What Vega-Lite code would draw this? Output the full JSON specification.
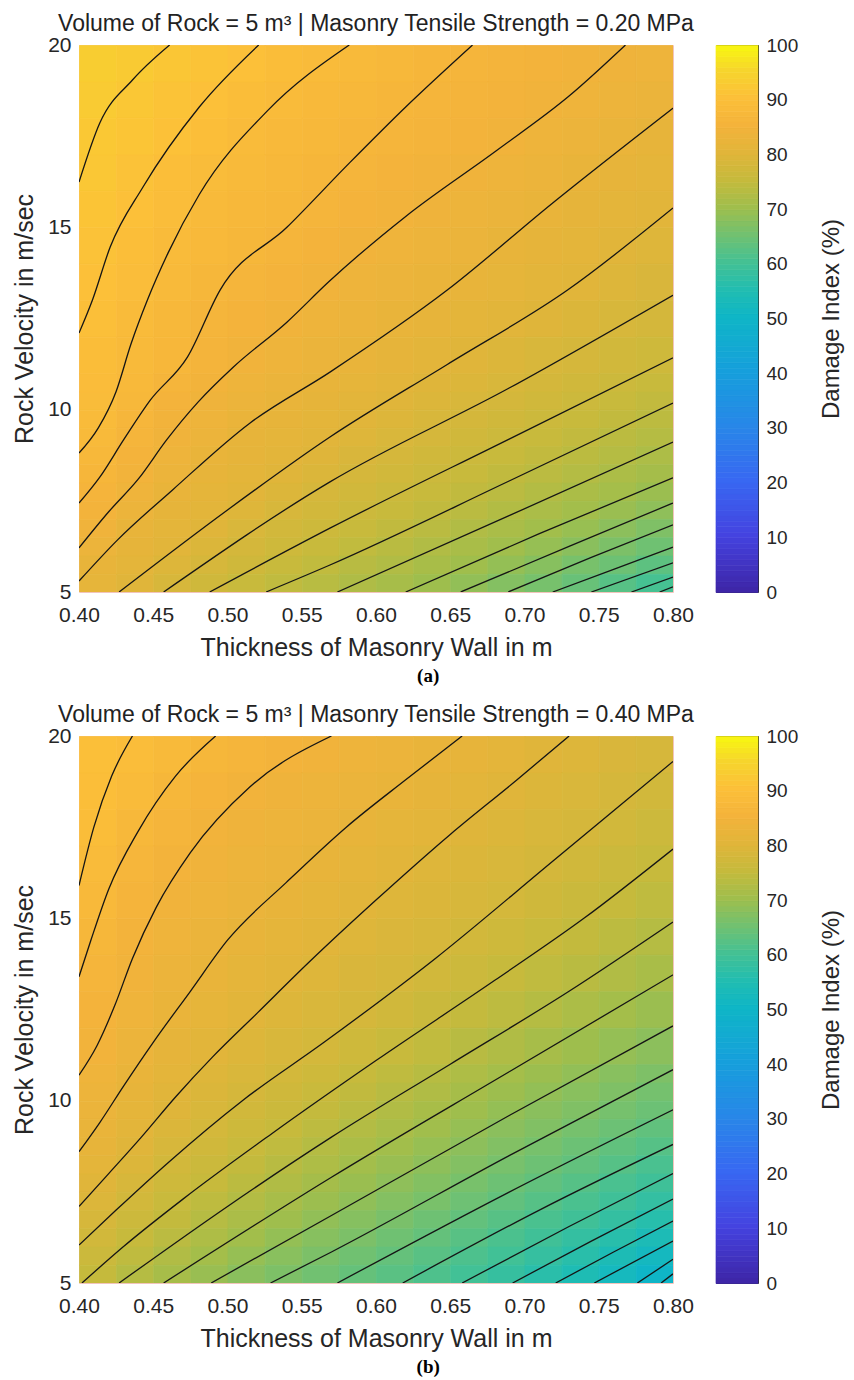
{
"$schema": "https://vega.github.io/schema/vega-lite/v6.json",
"padding": {"left": 12, "top": 12, "right": 2, "bottom": 2},
"background": "white",
"spacing": 17,
"config": {
  "font": "Liberation Sans",
  "view": {"stroke": null},
  "axis": {"labelFont": "Liberation Sans", "titleFont": "Liberation Sans", "labelColor": "#262626", "titleColor": "#262626", "grid": false, "domain": false, "ticks": false, "labelFontSize": 21, "titleFontSize": 25, "titleFontWeight": "normal", "labelFlush": false, "labelOverlap": false},
  "title": {"font": "Liberation Sans", "fontSize": 23, "fontWeight": "normal", "color": "#222222"}
},
"datasets": {
"cb": [{"c":0},{"c":1},{"c":2},{"c":3},{"c":4},{"c":5},{"c":6},{"c":7},{"c":8},{"c":9},{"c":10},{"c":11},{"c":12},{"c":13},{"c":14},{"c":15},{"c":16},{"c":17},{"c":18},{"c":19},{"c":20},{"c":21},{"c":22},{"c":23},{"c":24},{"c":25},{"c":26},{"c":27},{"c":28},{"c":29},{"c":30},{"c":31},{"c":32},{"c":33},{"c":34},{"c":35},{"c":36},{"c":37},{"c":38},{"c":39},{"c":40},{"c":41},{"c":42},{"c":43},{"c":44},{"c":45},{"c":46},{"c":47},{"c":48},{"c":49},{"c":50},{"c":51},{"c":52},{"c":53},{"c":54},{"c":55},{"c":56},{"c":57},{"c":58},{"c":59},{"c":60},{"c":61},{"c":62},{"c":63},{"c":64},{"c":65},{"c":66},{"c":67},{"c":68},{"c":69},{"c":70},{"c":71},{"c":72},{"c":73},{"c":74},{"c":75},{"c":76},{"c":77},{"c":78},{"c":79},{"c":80},{"c":81},{"c":82},{"c":83},{"c":84},{"c":85},{"c":86},{"c":87},{"c":88},{"c":89},{"c":90},{"c":91},{"c":92},{"c":93},{"c":94},{"c":95},{"c":96},{"c":97},{"c":98},{"c":99}],
"lA": [
{"k":1,"x":0.400,"v":16.24},{"k":1,"x":0.414,"v":17.86},{"k":1,"x":0.436,"v":19.04},{"k":1,"x":0.461,"v":20},
{"k":2,"x":0.400,"v":12.1},{"k":2,"x":0.409,"v":13.0},{"k":2,"x":0.421,"v":14.46},{"k":2,"x":0.443,"v":16.1},{"k":2,"x":0.481,"v":18.3},{"k":2,"x":0.521,"v":20},
{"k":3,"x":0.400,"v":8.81},{"k":3,"x":0.413,"v":9.5},{"k":3,"x":0.425,"v":10.5},{"k":3,"x":0.435,"v":11.8},{"k":3,"x":0.446,"v":13.0},{"k":3,"x":0.460,"v":14.3},{"k":3,"x":0.481,"v":15.9},{"k":3,"x":0.527,"v":18.2},{"k":3,"x":0.582,"v":20},
{"k":4,"x":0.400,"v":7.44},{"k":4,"x":0.414,"v":8.15},{"k":4,"x":0.430,"v":9.17},{"k":4,"x":0.448,"v":10.26},{"k":4,"x":0.473,"v":11.44},{"k":4,"x":0.495,"v":13.28},{"k":4,"x":0.540,"v":15.0},{"k":4,"x":0.582,"v":16.76},{"k":4,"x":0.620,"v":18.3},{"k":4,"x":0.665,"v":20},
{"k":5,"x":0.400,"v":6.21},{"k":5,"x":0.420,"v":7.2},{"k":5,"x":0.440,"v":8.1},{"k":5,"x":0.459,"v":9.17},{"k":5,"x":0.480,"v":10.2},{"k":5,"x":0.504,"v":11.17},{"k":5,"x":0.540,"v":12.4},{"k":5,"x":0.568,"v":13.5},{"k":5,"x":0.620,"v":15.3},{"k":5,"x":0.681,"v":17.1},{"k":5,"x":0.730,"v":18.6},{"k":5,"x":0.768,"v":20},
{"k":6,"x":0.400,"v":5.3},{"k":6,"x":0.426,"v":6.43},{"k":6,"x":0.463,"v":7.8},{"k":6,"x":0.515,"v":9.63},{"k":6,"x":0.569,"v":11.03},{"k":6,"x":0.648,"v":13.28},{"k":6,"x":0.719,"v":15.67},{"k":6,"x":0.800,"v":18.27},
{"k":7,"x":0.427,"v":5},{"k":7,"x":0.500,"v":7.25},{"k":7,"x":0.569,"v":9.25},{"k":7,"x":0.648,"v":11.24},{"k":7,"x":0.729,"v":13.28},{"k":7,"x":0.800,"v":15.53},
{"k":8,"x":0.457,"v":5},{"k":8,"x":0.569,"v":8.02},{"k":8,"x":0.690,"v":10.6},{"k":8,"x":0.800,"v":13.14},
{"k":9,"x":0.488,"v":5},{"k":9,"x":0.569,"v":6.75},{"k":9,"x":0.690,"v":9.2},{"k":9,"x":0.800,"v":11.42},
{"k":10,"x":0.526,"v":5},{"k":10,"x":0.569,"v":5.74},{"k":10,"x":0.690,"v":8.05},{"k":10,"x":0.800,"v":10.18},
{"k":11,"x":0.574,"v":5},{"k":11,"x":0.690,"v":7.1},{"k":11,"x":0.800,"v":9.11},
{"k":12,"x":0.620,"v":5},{"k":12,"x":0.710,"v":6.6},{"k":12,"x":0.800,"v":8.13},
{"k":13,"x":0.657,"v":5},{"k":13,"x":0.730,"v":6.25},{"k":13,"x":0.800,"v":7.44},
{"k":14,"x":0.689,"v":5},{"k":14,"x":0.745,"v":5.95},{"k":14,"x":0.800,"v":6.84},
{"k":15,"x":0.719,"v":5},{"k":15,"x":0.760,"v":5.62},{"k":15,"x":0.800,"v":6.23},
{"k":16,"x":0.745,"v":5},{"k":16,"x":0.800,"v":5.80},
{"k":17,"x":0.772,"v":5},{"k":17,"x":0.800,"v":5.41},
{"k":18,"x":0.791,"v":5},{"k":18,"x":0.800,"v":5.14}
],
"lB": [
{"k":1,"x":0.400,"v":15.9},{"k":1,"x":0.410,"v":17.5},{"k":1,"x":0.422,"v":18.9},{"k":1,"x":0.436,"v":20},
{"k":2,"x":0.400,"v":13.4},{"k":2,"x":0.408,"v":14.4},{"k":2,"x":0.420,"v":15.8},{"k":2,"x":0.440,"v":17.4},{"k":2,"x":0.465,"v":18.9},{"k":2,"x":0.492,"v":20},
{"k":3,"x":0.400,"v":10.7},{"k":3,"x":0.412,"v":11.5},{"k":3,"x":0.424,"v":12.6},{"k":3,"x":0.436,"v":13.9},{"k":3,"x":0.452,"v":15.3},{"k":3,"x":0.475,"v":16.8},{"k":3,"x":0.515,"v":18.6},{"k":3,"x":0.570,"v":20},
{"k":4,"x":0.400,"v":8.6},{"k":4,"x":0.414,"v":9.4},{"k":4,"x":0.430,"v":10.4},{"k":4,"x":0.450,"v":11.6},{"k":4,"x":0.475,"v":13.0},{"k":4,"x":0.500,"v":14.4},{"k":4,"x":0.540,"v":16.0},{"k":4,"x":0.580,"v":17.5},{"k":4,"x":0.620,"v":18.8},{"k":4,"x":0.658,"v":20},
{"k":5,"x":0.400,"v":7.1},{"k":5,"x":0.420,"v":8.0},{"k":5,"x":0.442,"v":9.0},{"k":5,"x":0.465,"v":10.1},{"k":5,"x":0.490,"v":11.2},{"k":5,"x":0.520,"v":12.4},{"k":5,"x":0.555,"v":13.8},{"k":5,"x":0.600,"v":15.5},{"k":5,"x":0.650,"v":17.3},{"k":5,"x":0.695,"v":18.8},{"k":5,"x":0.730,"v":20},
{"k":6,"x":0.400,"v":6.04},{"k":6,"x":0.425,"v":7.0},{"k":6,"x":0.460,"v":8.3},{"k":6,"x":0.510,"v":10.0},{"k":6,"x":0.565,"v":11.6},{"k":6,"x":0.640,"v":13.9},{"k":6,"x":0.720,"v":16.6},{"k":6,"x":0.800,"v":19.3},
{"k":7,"x":0.402,"v":5},{"k":7,"x":0.430,"v":6.0},{"k":7,"x":0.470,"v":7.3},{"k":7,"x":0.530,"v":9.1},{"k":7,"x":0.600,"v":11.1},{"k":7,"x":0.680,"v":13.3},{"k":7,"x":0.740,"v":15.0},{"k":7,"x":0.800,"v":16.9},
{"k":8,"x":0.427,"v":5},{"k":8,"x":0.500,"v":7.1},{"k":8,"x":0.570,"v":9.0},{"k":8,"x":0.650,"v":11.0},{"k":8,"x":0.730,"v":13.0},{"k":8,"x":0.800,"v":14.9},
{"k":9,"x":0.457,"v":5},{"k":9,"x":0.570,"v":7.9},{"k":9,"x":0.690,"v":10.8},{"k":9,"x":0.800,"v":13.45},
{"k":10,"x":0.489,"v":5},{"k":10,"x":0.570,"v":6.85},{"k":10,"x":0.690,"v":9.6},{"k":10,"x":0.800,"v":12.05},
{"k":11,"x":0.529,"v":5},{"k":11,"x":0.570,"v":5.85},{"k":11,"x":0.690,"v":8.5},{"k":11,"x":0.800,"v":10.85},
{"k":12,"x":0.574,"v":5},{"k":12,"x":0.690,"v":7.5},{"k":12,"x":0.800,"v":9.75},
{"k":13,"x":0.618,"v":5},{"k":13,"x":0.710,"v":7.0},{"k":13,"x":0.800,"v":8.8},
{"k":14,"x":0.658,"v":5},{"k":14,"x":0.730,"v":6.55},{"k":14,"x":0.800,"v":8.0},
{"k":15,"x":0.692,"v":5},{"k":15,"x":0.745,"v":6.15},{"k":15,"x":0.800,"v":7.3},
{"k":16,"x":0.721,"v":5},{"k":16,"x":0.760,"v":5.85},{"k":16,"x":0.800,"v":6.7},
{"k":17,"x":0.747,"v":5},{"k":17,"x":0.800,"v":6.15},
{"k":18,"x":0.776,"v":5},{"k":18,"x":0.800,"v":5.65},
{"k":19,"x":0.792,"v":5},{"k":19,"x":0.800,"v":5.25}
],
"gA": [
{"v":19,"x":0.4,"d":93.0},{"v":19,"x":0.425,"d":92.3},{"v":19,"x":0.45,"d":91.5},{"v":19,"x":0.475,"d":90.7},{"v":19,"x":0.5,"d":89.9},{"v":19,"x":0.525,"d":89.0},{"v":19,"x":0.55,"d":88.2},{"v":19,"x":0.575,"d":87.5},{"v":19,"x":0.6,"d":86.9},{"v":19,"x":0.625,"d":86.3},{"v":19,"x":0.65,"d":85.8},{"v":19,"x":0.675,"d":85.3},{"v":19,"x":0.7,"d":84.8},{"v":19,"x":0.725,"d":84.3},{"v":19,"x":0.75,"d":83.8},{"v":19,"x":0.775,"d":83.3},
{"v":18,"x":0.4,"d":92.5},{"v":18,"x":0.425,"d":91.6},{"v":18,"x":0.45,"d":90.8},{"v":18,"x":0.475,"d":89.9},{"v":18,"x":0.5,"d":88.9},{"v":18,"x":0.525,"d":88.0},{"v":18,"x":0.55,"d":87.4},{"v":18,"x":0.575,"d":86.8},{"v":18,"x":0.6,"d":86.3},{"v":18,"x":0.625,"d":85.8},{"v":18,"x":0.65,"d":85.3},{"v":18,"x":0.675,"d":84.8},{"v":18,"x":0.7,"d":84.3},{"v":18,"x":0.725,"d":83.7},{"v":18,"x":0.75,"d":83.1},{"v":18,"x":0.775,"d":82.5},
{"v":17,"x":0.4,"d":91.9},{"v":17,"x":0.425,"d":91.1},{"v":17,"x":0.45,"d":90.2},{"v":17,"x":0.475,"d":89.1},{"v":17,"x":0.5,"d":88.0},{"v":17,"x":0.525,"d":87.4},{"v":17,"x":0.55,"d":86.9},{"v":17,"x":0.575,"d":86.3},{"v":17,"x":0.6,"d":85.7},{"v":17,"x":0.625,"d":85.2},{"v":17,"x":0.65,"d":84.7},{"v":17,"x":0.675,"d":84.1},{"v":17,"x":0.7,"d":83.5},{"v":17,"x":0.725,"d":82.9},{"v":17,"x":0.75,"d":82.3},{"v":17,"x":0.775,"d":81.7},
{"v":16,"x":0.4,"d":91.6},{"v":16,"x":0.425,"d":90.5},{"v":16,"x":0.45,"d":89.4},{"v":16,"x":0.475,"d":88.3},{"v":16,"x":0.5,"d":87.5},{"v":16,"x":0.525,"d":86.9},{"v":16,"x":0.55,"d":86.3},{"v":16,"x":0.575,"d":85.7},{"v":16,"x":0.6,"d":85.1},{"v":16,"x":0.625,"d":84.6},{"v":16,"x":0.65,"d":84.0},{"v":16,"x":0.675,"d":83.4},{"v":16,"x":0.7,"d":82.8},{"v":16,"x":0.725,"d":82.2},{"v":16,"x":0.75,"d":81.6},{"v":16,"x":0.775,"d":81.0},
{"v":15,"x":0.4,"d":91.0},{"v":15,"x":0.425,"d":89.9},{"v":15,"x":0.45,"d":88.7},{"v":15,"x":0.475,"d":87.7},{"v":15,"x":0.5,"d":87.0},{"v":15,"x":0.525,"d":86.4},{"v":15,"x":0.55,"d":85.7},{"v":15,"x":0.575,"d":85.1},{"v":15,"x":0.6,"d":84.4},{"v":15,"x":0.625,"d":83.8},{"v":15,"x":0.65,"d":83.2},{"v":15,"x":0.675,"d":82.6},{"v":15,"x":0.7,"d":82.0},{"v":15,"x":0.725,"d":81.4},{"v":15,"x":0.75,"d":80.9},{"v":15,"x":0.775,"d":80.3},
{"v":14,"x":0.4,"d":90.5},{"v":14,"x":0.425,"d":89.2},{"v":14,"x":0.45,"d":88.0},{"v":14,"x":0.475,"d":87.2},{"v":14,"x":0.5,"d":86.5},{"v":14,"x":0.525,"d":85.7},{"v":14,"x":0.55,"d":85.0},{"v":14,"x":0.575,"d":84.3},{"v":14,"x":0.6,"d":83.6},{"v":14,"x":0.625,"d":83.1},{"v":14,"x":0.65,"d":82.5},{"v":14,"x":0.675,"d":81.9},{"v":14,"x":0.7,"d":81.3},{"v":14,"x":0.725,"d":80.7},{"v":14,"x":0.75,"d":80.1},{"v":14,"x":0.775,"d":79.4},
{"v":13,"x":0.4,"d":90.0},{"v":13,"x":0.425,"d":88.7},{"v":13,"x":0.45,"d":87.5},{"v":13,"x":0.475,"d":86.5},{"v":13,"x":0.5,"d":85.7},{"v":13,"x":0.525,"d":84.9},{"v":13,"x":0.55,"d":84.2},{"v":13,"x":0.575,"d":83.5},{"v":13,"x":0.6,"d":83.0},{"v":13,"x":0.625,"d":82.4},{"v":13,"x":0.65,"d":81.8},{"v":13,"x":0.675,"d":81.2},{"v":13,"x":0.7,"d":80.6},{"v":13,"x":0.725,"d":80.0},{"v":13,"x":0.75,"d":79.3},{"v":13,"x":0.775,"d":78.6},
{"v":12,"x":0.4,"d":89.5},{"v":12,"x":0.425,"d":88.2},{"v":12,"x":0.45,"d":87.0},{"v":12,"x":0.475,"d":85.9},{"v":12,"x":0.5,"d":85.1},{"v":12,"x":0.525,"d":84.2},{"v":12,"x":0.55,"d":83.5},{"v":12,"x":0.575,"d":82.8},{"v":12,"x":0.6,"d":82.2},{"v":12,"x":0.625,"d":81.6},{"v":12,"x":0.65,"d":80.9},{"v":12,"x":0.675,"d":80.3},{"v":12,"x":0.7,"d":79.6},{"v":12,"x":0.725,"d":78.9},{"v":12,"x":0.75,"d":78.2},{"v":12,"x":0.775,"d":77.6},
{"v":11,"x":0.4,"d":89.0},{"v":11,"x":0.425,"d":87.8},{"v":11,"x":0.45,"d":86.6},{"v":11,"x":0.475,"d":85.3},{"v":11,"x":0.5,"d":84.1},{"v":11,"x":0.525,"d":83.3},{"v":11,"x":0.55,"d":82.7},{"v":11,"x":0.575,"d":82.0},{"v":11,"x":0.6,"d":81.3},{"v":11,"x":0.625,"d":80.6},{"v":11,"x":0.65,"d":79.9},{"v":11,"x":0.675,"d":79.1},{"v":11,"x":0.7,"d":78.4},{"v":11,"x":0.725,"d":77.7},{"v":11,"x":0.75,"d":77.1},{"v":11,"x":0.775,"d":76.4}
],
"fA": [
{"v":10.5,"x":0.4,"d":88.6},{"v":10.5,"x":0.425,"d":87.3},{"v":10.5,"x":0.45,"d":85.7},{"v":10.5,"x":0.475,"d":84.4},{"v":10.5,"x":0.5,"d":83.4},{"v":10.5,"x":0.525,"d":82.6},{"v":10.5,"x":0.55,"d":81.9},{"v":10.5,"x":0.575,"d":81.2},{"v":10.5,"x":0.6,"d":80.4},{"v":10.5,"x":0.625,"d":79.7},{"v":10.5,"x":0.65,"d":79.0},{"v":10.5,"x":0.675,"d":78.3},{"v":10.5,"x":0.7,"d":77.6},{"v":10.5,"x":0.725,"d":76.8},{"v":10.5,"x":0.75,"d":76.1},{"v":10.5,"x":0.775,"d":75.3},
{"v":10,"x":0.4,"d":88.4},{"v":10,"x":0.425,"d":86.8},{"v":10,"x":0.45,"d":85.1},{"v":10,"x":0.475,"d":83.8},{"v":10,"x":0.5,"d":82.9},{"v":10,"x":0.525,"d":82.1},{"v":10,"x":0.55,"d":81.3},{"v":10,"x":0.575,"d":80.6},{"v":10,"x":0.6,"d":79.9},{"v":10,"x":0.625,"d":79.1},{"v":10,"x":0.65,"d":78.3},{"v":10,"x":0.675,"d":77.6},{"v":10,"x":0.7,"d":76.9},{"v":10,"x":0.725,"d":76.1},{"v":10,"x":0.75,"d":75.3},{"v":10,"x":0.775,"d":74.5},
{"v":9.5,"x":0.4,"d":88.1},{"v":9.5,"x":0.425,"d":86.2},{"v":9.5,"x":0.45,"d":84.5},{"v":9.5,"x":0.475,"d":83.3},{"v":9.5,"x":0.5,"d":82.3},{"v":9.5,"x":0.525,"d":81.5},{"v":9.5,"x":0.55,"d":80.8},{"v":9.5,"x":0.575,"d":80.0},{"v":9.5,"x":0.6,"d":79.2},{"v":9.5,"x":0.625,"d":78.4},{"v":9.5,"x":0.65,"d":77.6},{"v":9.5,"x":0.675,"d":76.9},{"v":9.5,"x":0.7,"d":76.1},{"v":9.5,"x":0.725,"d":75.3},{"v":9.5,"x":0.75,"d":74.5},{"v":9.5,"x":0.775,"d":73.7},
{"v":9,"x":0.4,"d":87.6},{"v":9,"x":0.425,"d":85.6},{"v":9,"x":0.45,"d":83.9},{"v":9,"x":0.475,"d":82.8},{"v":9,"x":0.5,"d":81.7},{"v":9,"x":0.525,"d":81.0},{"v":9,"x":0.55,"d":80.2},{"v":9,"x":0.575,"d":79.4},{"v":9,"x":0.6,"d":78.5},{"v":9,"x":0.625,"d":77.7},{"v":9,"x":0.65,"d":76.9},{"v":9,"x":0.675,"d":76.1},{"v":9,"x":0.7,"d":75.3},{"v":9,"x":0.725,"d":74.5},{"v":9,"x":0.75,"d":73.6},{"v":9,"x":0.775,"d":72.7},
{"v":8.5,"x":0.4,"d":86.9},{"v":8.5,"x":0.425,"d":85.0},{"v":8.5,"x":0.45,"d":83.4},{"v":8.5,"x":0.475,"d":82.1},{"v":8.5,"x":0.5,"d":81.3},{"v":8.5,"x":0.525,"d":80.5},{"v":8.5,"x":0.55,"d":79.6},{"v":8.5,"x":0.575,"d":78.6},{"v":8.5,"x":0.6,"d":77.7},{"v":8.5,"x":0.625,"d":76.9},{"v":8.5,"x":0.65,"d":76.2},{"v":8.5,"x":0.675,"d":75.3},{"v":8.5,"x":0.7,"d":74.5},{"v":8.5,"x":0.725,"d":73.6},{"v":8.5,"x":0.75,"d":72.7},{"v":8.5,"x":0.775,"d":71.7},
{"v":8,"x":0.4,"d":86.3},{"v":8,"x":0.425,"d":84.4},{"v":8,"x":0.45,"d":82.8},{"v":8,"x":0.475,"d":81.6},{"v":8,"x":0.5,"d":80.8},{"v":8,"x":0.525,"d":79.9},{"v":8,"x":0.55,"d":78.8},{"v":8,"x":0.575,"d":77.8},{"v":8,"x":0.6,"d":77.0},{"v":8,"x":0.625,"d":76.2},{"v":8,"x":0.65,"d":75.3},{"v":8,"x":0.675,"d":74.4},{"v":8,"x":0.7,"d":73.5},{"v":8,"x":0.725,"d":72.6},{"v":8,"x":0.75,"d":71.6},{"v":8,"x":0.775,"d":70.7},
{"v":7.5,"x":0.4,"d":85.5},{"v":7.5,"x":0.425,"d":83.6},{"v":7.5,"x":0.45,"d":82.0},{"v":7.5,"x":0.475,"d":81.1},{"v":7.5,"x":0.5,"d":80.2},{"v":7.5,"x":0.525,"d":79.0},{"v":7.5,"x":0.55,"d":77.9},{"v":7.5,"x":0.575,"d":77.0},{"v":7.5,"x":0.6,"d":76.2},{"v":7.5,"x":0.625,"d":75.3},{"v":7.5,"x":0.65,"d":74.4},{"v":7.5,"x":0.675,"d":73.5},{"v":7.5,"x":0.7,"d":72.5},{"v":7.5,"x":0.725,"d":71.5},{"v":7.5,"x":0.75,"d":70.6},{"v":7.5,"x":0.775,"d":69.5},
{"v":7,"x":0.4,"d":84.7},{"v":7,"x":0.425,"d":82.8},{"v":7,"x":0.45,"d":81.4},{"v":7,"x":0.475,"d":80.5},{"v":7,"x":0.5,"d":79.4},{"v":7,"x":0.525,"d":78.1},{"v":7,"x":0.55,"d":77.2},{"v":7,"x":0.575,"d":76.2},{"v":7,"x":0.6,"d":75.3},{"v":7,"x":0.625,"d":74.4},{"v":7,"x":0.65,"d":73.4},{"v":7,"x":0.675,"d":72.4},{"v":7,"x":0.7,"d":71.4},{"v":7,"x":0.725,"d":70.4},{"v":7,"x":0.75,"d":69.3},{"v":7,"x":0.775,"d":68.1},
{"v":6.5,"x":0.4,"d":83.9},{"v":6.5,"x":0.425,"d":81.9},{"v":6.5,"x":0.45,"d":80.9},{"v":6.5,"x":0.475,"d":79.8},{"v":6.5,"x":0.5,"d":78.5},{"v":6.5,"x":0.525,"d":77.3},{"v":6.5,"x":0.55,"d":76.3},{"v":6.5,"x":0.575,"d":75.3},{"v":6.5,"x":0.6,"d":74.4},{"v":6.5,"x":0.625,"d":73.4},{"v":6.5,"x":0.65,"d":72.3},{"v":6.5,"x":0.675,"d":71.3},{"v":6.5,"x":0.7,"d":70.3},{"v":6.5,"x":0.725,"d":69.1},{"v":6.5,"x":0.75,"d":67.8},{"v":6.5,"x":0.775,"d":66.4},
{"v":6,"x":0.4,"d":82.9},{"v":6,"x":0.425,"d":81.3},{"v":6,"x":0.45,"d":80.2},{"v":6,"x":0.475,"d":78.9},{"v":6,"x":0.5,"d":77.6},{"v":6,"x":0.525,"d":76.4},{"v":6,"x":0.55,"d":75.3},{"v":6,"x":0.575,"d":74.3},{"v":6,"x":0.6,"d":73.3},{"v":6,"x":0.625,"d":72.3},{"v":6,"x":0.65,"d":71.2},{"v":6,"x":0.675,"d":70.1},{"v":6,"x":0.7,"d":68.9},{"v":6,"x":0.725,"d":67.6},{"v":6,"x":0.75,"d":66.1},{"v":6,"x":0.775,"d":64.7},
{"v":5.5,"x":0.4,"d":81.9},{"v":5.5,"x":0.425,"d":80.7},{"v":5.5,"x":0.45,"d":79.3},{"v":5.5,"x":0.475,"d":77.9},{"v":5.5,"x":0.5,"d":76.6},{"v":5.5,"x":0.525,"d":75.4},{"v":5.5,"x":0.55,"d":74.3},{"v":5.5,"x":0.575,"d":73.2},{"v":5.5,"x":0.6,"d":72.2},{"v":5.5,"x":0.625,"d":71.1},{"v":5.5,"x":0.65,"d":70.0},{"v":5.5,"x":0.675,"d":68.7},{"v":5.5,"x":0.7,"d":67.3},{"v":5.5,"x":0.725,"d":65.7},{"v":5.5,"x":0.75,"d":64.4},{"v":5.5,"x":0.775,"d":62.7},
{"v":5,"x":0.4,"d":81.2},{"v":5,"x":0.425,"d":79.8},{"v":5,"x":0.45,"d":78.2},{"v":5,"x":0.475,"d":76.7},{"v":5,"x":0.5,"d":75.4},{"v":5,"x":0.525,"d":74.2},{"v":5,"x":0.55,"d":73.1},{"v":5,"x":0.575,"d":72.0},{"v":5,"x":0.6,"d":70.9},{"v":5,"x":0.625,"d":69.8},{"v":5,"x":0.65,"d":68.5},{"v":5,"x":0.675,"d":67.0},{"v":5,"x":0.7,"d":65.5},{"v":5,"x":0.725,"d":63.9},{"v":5,"x":0.75,"d":62.0},{"v":5,"x":0.775,"d":60.1}
],
"gB": [
{"v":19,"x":0.4,"d":89.6},{"v":19,"x":0.425,"d":88.7},{"v":19,"x":0.45,"d":87.5},{"v":19,"x":0.475,"d":86.4},{"v":19,"x":0.5,"d":85.6},{"v":19,"x":0.525,"d":84.8},{"v":19,"x":0.55,"d":84.1},{"v":19,"x":0.575,"d":83.5},{"v":19,"x":0.6,"d":82.8},{"v":19,"x":0.625,"d":82.2},{"v":19,"x":0.65,"d":81.5},{"v":19,"x":0.675,"d":80.7},{"v":19,"x":0.7,"d":79.9},{"v":19,"x":0.725,"d":79.3},{"v":19,"x":0.75,"d":78.6},{"v":19,"x":0.775,"d":78.0},
{"v":18,"x":0.4,"d":89.3},{"v":18,"x":0.425,"d":87.9},{"v":18,"x":0.45,"d":86.5},{"v":18,"x":0.475,"d":85.5},{"v":18,"x":0.5,"d":84.4},{"v":18,"x":0.525,"d":83.8},{"v":18,"x":0.55,"d":83.2},{"v":18,"x":0.575,"d":82.6},{"v":18,"x":0.6,"d":82.1},{"v":18,"x":0.625,"d":81.3},{"v":18,"x":0.65,"d":80.5},{"v":18,"x":0.675,"d":79.8},{"v":18,"x":0.7,"d":79.1},{"v":18,"x":0.725,"d":78.5},{"v":18,"x":0.75,"d":77.8},{"v":18,"x":0.775,"d":77.1},
{"v":17,"x":0.4,"d":88.8},{"v":17,"x":0.425,"d":87.0},{"v":17,"x":0.45,"d":85.7},{"v":17,"x":0.475,"d":84.6},{"v":17,"x":0.5,"d":83.8},{"v":17,"x":0.525,"d":83.2},{"v":17,"x":0.55,"d":82.6},{"v":17,"x":0.575,"d":81.9},{"v":17,"x":0.6,"d":81.1},{"v":17,"x":0.625,"d":80.4},{"v":17,"x":0.65,"d":79.6},{"v":17,"x":0.675,"d":79.0},{"v":17,"x":0.7,"d":78.4},{"v":17,"x":0.725,"d":77.8},{"v":17,"x":0.75,"d":77.0},{"v":17,"x":0.775,"d":76.2},
{"v":16,"x":0.4,"d":88.2},{"v":16,"x":0.425,"d":86.2},{"v":16,"x":0.45,"d":84.8},{"v":16,"x":0.475,"d":83.9},{"v":16,"x":0.5,"d":83.2},{"v":16,"x":0.525,"d":82.5},{"v":16,"x":0.55,"d":81.8},{"v":16,"x":0.575,"d":81.0},{"v":16,"x":0.6,"d":80.3},{"v":16,"x":0.625,"d":79.5},{"v":16,"x":0.65,"d":78.9},{"v":16,"x":0.675,"d":78.3},{"v":16,"x":0.7,"d":77.6},{"v":16,"x":0.725,"d":76.8},{"v":16,"x":0.75,"d":76.0},{"v":16,"x":0.775,"d":75.2},
{"v":15,"x":0.4,"d":87.2},{"v":15,"x":0.425,"d":85.5},{"v":15,"x":0.45,"d":84.2},{"v":15,"x":0.475,"d":83.4},{"v":15,"x":0.5,"d":82.6},{"v":15,"x":0.525,"d":81.8},{"v":15,"x":0.55,"d":81.0},{"v":15,"x":0.575,"d":80.2},{"v":15,"x":0.6,"d":79.5},{"v":15,"x":0.625,"d":78.8},{"v":15,"x":0.65,"d":78.1},{"v":15,"x":0.675,"d":77.5},{"v":15,"x":0.7,"d":76.6},{"v":15,"x":0.725,"d":75.8},{"v":15,"x":0.75,"d":75.0},{"v":15,"x":0.775,"d":74.1},
{"v":14,"x":0.4,"d":86.5},{"v":14,"x":0.425,"d":84.8},{"v":14,"x":0.45,"d":83.6},{"v":14,"x":0.475,"d":82.7},{"v":14,"x":0.5,"d":81.8},{"v":14,"x":0.525,"d":81.0},{"v":14,"x":0.55,"d":80.2},{"v":14,"x":0.575,"d":79.4},{"v":14,"x":0.6,"d":78.7},{"v":14,"x":0.625,"d":78.1},{"v":14,"x":0.65,"d":77.3},{"v":14,"x":0.675,"d":76.4},{"v":14,"x":0.7,"d":75.5},{"v":14,"x":0.725,"d":74.6},{"v":14,"x":0.75,"d":73.7},{"v":14,"x":0.775,"d":72.8},
{"v":13,"x":0.4,"d":85.8},{"v":13,"x":0.425,"d":84.1},{"v":13,"x":0.45,"d":83.0},{"v":13,"x":0.475,"d":82.0},{"v":13,"x":0.5,"d":81.1},{"v":13,"x":0.525,"d":80.2},{"v":13,"x":0.55,"d":79.4},{"v":13,"x":0.575,"d":78.6},{"v":13,"x":0.6,"d":77.9},{"v":13,"x":0.625,"d":77.1},{"v":13,"x":0.65,"d":76.1},{"v":13,"x":0.675,"d":75.2},{"v":13,"x":0.7,"d":74.2},{"v":13,"x":0.725,"d":73.3},{"v":13,"x":0.75,"d":72.3},{"v":13,"x":0.775,"d":71.2},
{"v":12,"x":0.4,"d":85.1},{"v":12,"x":0.425,"d":83.6},{"v":12,"x":0.45,"d":82.3},{"v":12,"x":0.475,"d":81.2},{"v":12,"x":0.5,"d":80.2},{"v":12,"x":0.525,"d":79.3},{"v":12,"x":0.55,"d":78.5},{"v":12,"x":0.575,"d":77.7},{"v":12,"x":0.6,"d":76.8},{"v":12,"x":0.625,"d":75.8},{"v":12,"x":0.65,"d":74.7},{"v":12,"x":0.675,"d":73.8},{"v":12,"x":0.7,"d":72.8},{"v":12,"x":0.725,"d":71.6},{"v":12,"x":0.75,"d":70.5},{"v":12,"x":0.775,"d":69.5},
{"v":11,"x":0.4,"d":84.4},{"v":11,"x":0.425,"d":82.8},{"v":11,"x":0.45,"d":81.4},{"v":11,"x":0.475,"d":80.3},{"v":11,"x":0.5,"d":79.3},{"v":11,"x":0.525,"d":78.4},{"v":11,"x":0.55,"d":77.5},{"v":11,"x":0.575,"d":76.4},{"v":11,"x":0.6,"d":75.3},{"v":11,"x":0.625,"d":74.3},{"v":11,"x":0.65,"d":73.2},{"v":11,"x":0.675,"d":72.1},{"v":11,"x":0.7,"d":70.9},{"v":11,"x":0.725,"d":69.8},{"v":11,"x":0.75,"d":68.8},{"v":11,"x":0.775,"d":67.8}
],
"fB": [
{"v":10.5,"x":0.4,"d":83.6},{"v":10.5,"x":0.425,"d":82.0},{"v":10.5,"x":0.45,"d":80.7},{"v":10.5,"x":0.475,"d":79.5},{"v":10.5,"x":0.5,"d":78.5},{"v":10.5,"x":0.525,"d":77.4},{"v":10.5,"x":0.55,"d":76.4},{"v":10.5,"x":0.575,"d":75.2},{"v":10.5,"x":0.6,"d":74.1},{"v":10.5,"x":0.625,"d":73.0},{"v":10.5,"x":0.65,"d":71.8},{"v":10.5,"x":0.675,"d":70.6},{"v":10.5,"x":0.7,"d":69.6},{"v":10.5,"x":0.725,"d":68.5},{"v":10.5,"x":0.75,"d":67.4},{"v":10.5,"x":0.775,"d":66.3},
{"v":10,"x":0.4,"d":83.1},{"v":10,"x":0.425,"d":81.5},{"v":10,"x":0.45,"d":80.1},{"v":10,"x":0.475,"d":78.9},{"v":10,"x":0.5,"d":77.8},{"v":10,"x":0.525,"d":76.7},{"v":10,"x":0.55,"d":75.5},{"v":10,"x":0.575,"d":74.4},{"v":10,"x":0.6,"d":73.2},{"v":10,"x":0.625,"d":72.1},{"v":10,"x":0.65,"d":70.8},{"v":10,"x":0.675,"d":69.7},{"v":10,"x":0.7,"d":68.6},{"v":10,"x":0.725,"d":67.5},{"v":10,"x":0.75,"d":66.4},{"v":10,"x":0.775,"d":65.3},
{"v":9.5,"x":0.4,"d":82.6},{"v":9.5,"x":0.425,"d":81.0},{"v":9.5,"x":0.45,"d":79.6},{"v":9.5,"x":0.475,"d":78.3},{"v":9.5,"x":0.5,"d":77.1},{"v":9.5,"x":0.525,"d":75.9},{"v":9.5,"x":0.55,"d":74.7},{"v":9.5,"x":0.575,"d":73.5},{"v":9.5,"x":0.6,"d":72.3},{"v":9.5,"x":0.625,"d":71.1},{"v":9.5,"x":0.65,"d":69.9},{"v":9.5,"x":0.675,"d":68.7},{"v":9.5,"x":0.7,"d":67.6},{"v":9.5,"x":0.725,"d":66.5},{"v":9.5,"x":0.75,"d":65.4},{"v":9.5,"x":0.775,"d":64.3},
{"v":9,"x":0.4,"d":82.0},{"v":9,"x":0.425,"d":80.4},{"v":9,"x":0.45,"d":78.9},{"v":9,"x":0.475,"d":77.5},{"v":9,"x":0.5,"d":76.3},{"v":9,"x":0.525,"d":75.1},{"v":9,"x":0.55,"d":73.8},{"v":9,"x":0.575,"d":72.5},{"v":9,"x":0.6,"d":71.3},{"v":9,"x":0.625,"d":70.1},{"v":9,"x":0.65,"d":68.9},{"v":9,"x":0.675,"d":67.7},{"v":9,"x":0.7,"d":66.6},{"v":9,"x":0.725,"d":65.4},{"v":9,"x":0.75,"d":64.3},{"v":9,"x":0.775,"d":63.1},
{"v":8.5,"x":0.4,"d":81.5},{"v":8.5,"x":0.425,"d":79.8},{"v":8.5,"x":0.45,"d":78.2},{"v":8.5,"x":0.475,"d":76.8},{"v":8.5,"x":0.5,"d":75.5},{"v":8.5,"x":0.525,"d":74.2},{"v":8.5,"x":0.55,"d":72.8},{"v":8.5,"x":0.575,"d":71.5},{"v":8.5,"x":0.6,"d":70.2},{"v":8.5,"x":0.625,"d":69.0},{"v":8.5,"x":0.65,"d":67.9},{"v":8.5,"x":0.675,"d":66.7},{"v":8.5,"x":0.7,"d":65.5},{"v":8.5,"x":0.725,"d":64.3},{"v":8.5,"x":0.75,"d":63.1},{"v":8.5,"x":0.775,"d":61.9},
{"v":8,"x":0.4,"d":80.7},{"v":8,"x":0.425,"d":79.0},{"v":8,"x":0.45,"d":77.3},{"v":8,"x":0.475,"d":76.0},{"v":8,"x":0.5,"d":74.6},{"v":8,"x":0.525,"d":73.2},{"v":8,"x":0.55,"d":71.8},{"v":8,"x":0.575,"d":70.4},{"v":8,"x":0.6,"d":69.2},{"v":8,"x":0.625,"d":68.0},{"v":8,"x":0.65,"d":66.8},{"v":8,"x":0.675,"d":65.6},{"v":8,"x":0.7,"d":64.4},{"v":8,"x":0.725,"d":63.2},{"v":8,"x":0.75,"d":61.9},{"v":8,"x":0.775,"d":60.5},
{"v":7.5,"x":0.4,"d":79.9},{"v":7.5,"x":0.425,"d":78.1},{"v":7.5,"x":0.45,"d":76.5},{"v":7.5,"x":0.475,"d":75.1},{"v":7.5,"x":0.5,"d":73.6},{"v":7.5,"x":0.525,"d":72.1},{"v":7.5,"x":0.55,"d":70.7},{"v":7.5,"x":0.575,"d":69.4},{"v":7.5,"x":0.6,"d":68.1},{"v":7.5,"x":0.625,"d":66.9},{"v":7.5,"x":0.65,"d":65.7},{"v":7.5,"x":0.675,"d":64.4},{"v":7.5,"x":0.7,"d":63.2},{"v":7.5,"x":0.725,"d":61.9},{"v":7.5,"x":0.75,"d":60.5},{"v":7.5,"x":0.775,"d":59.1},
{"v":7,"x":0.4,"d":79.0},{"v":7,"x":0.425,"d":77.2},{"v":7,"x":0.45,"d":75.5},{"v":7,"x":0.475,"d":74.0},{"v":7,"x":0.5,"d":72.5},{"v":7,"x":0.525,"d":71.0},{"v":7,"x":0.55,"d":69.6},{"v":7,"x":0.575,"d":68.3},{"v":7,"x":0.6,"d":67.0},{"v":7,"x":0.625,"d":65.8},{"v":7,"x":0.65,"d":64.5},{"v":7,"x":0.675,"d":63.2},{"v":7,"x":0.7,"d":61.9},{"v":7,"x":0.725,"d":60.6},{"v":7,"x":0.75,"d":59.2},{"v":7,"x":0.775,"d":57.5},
{"v":6.5,"x":0.4,"d":78.0},{"v":6.5,"x":0.425,"d":76.2},{"v":6.5,"x":0.45,"d":74.6},{"v":6.5,"x":0.475,"d":72.9},{"v":6.5,"x":0.5,"d":71.4},{"v":6.5,"x":0.525,"d":69.9},{"v":6.5,"x":0.55,"d":68.5},{"v":6.5,"x":0.575,"d":67.2},{"v":6.5,"x":0.6,"d":65.9},{"v":6.5,"x":0.625,"d":64.6},{"v":6.5,"x":0.65,"d":63.3},{"v":6.5,"x":0.675,"d":62.0},{"v":6.5,"x":0.7,"d":60.6},{"v":6.5,"x":0.725,"d":59.3},{"v":6.5,"x":0.75,"d":57.6},{"v":6.5,"x":0.775,"d":55.7},
{"v":6,"x":0.4,"d":77.0},{"v":6,"x":0.425,"d":75.2},{"v":6,"x":0.45,"d":73.5},{"v":6,"x":0.475,"d":71.8},{"v":6,"x":0.5,"d":70.2},{"v":6,"x":0.525,"d":68.7},{"v":6,"x":0.55,"d":67.3},{"v":6,"x":0.575,"d":66.1},{"v":6,"x":0.6,"d":64.7},{"v":6,"x":0.625,"d":63.4},{"v":6,"x":0.65,"d":62.1},{"v":6,"x":0.675,"d":60.7},{"v":6,"x":0.7,"d":59.3},{"v":6,"x":0.725,"d":57.6},{"v":6,"x":0.75,"d":55.8},{"v":6,"x":0.775,"d":53.7},
{"v":5.5,"x":0.4,"d":76.0},{"v":5.5,"x":0.425,"d":74.1},{"v":5.5,"x":0.45,"d":72.2},{"v":5.5,"x":0.475,"d":70.5},{"v":5.5,"x":0.5,"d":68.9},{"v":5.5,"x":0.525,"d":67.5},{"v":5.5,"x":0.55,"d":66.1},{"v":5.5,"x":0.575,"d":64.8},{"v":5.5,"x":0.6,"d":63.5},{"v":5.5,"x":0.625,"d":62.2},{"v":5.5,"x":0.65,"d":60.9},{"v":5.5,"x":0.675,"d":59.4},{"v":5.5,"x":0.7,"d":57.8},{"v":5.5,"x":0.725,"d":56.0},{"v":5.5,"x":0.75,"d":53.8},{"v":5.5,"x":0.775,"d":51.6},
{"v":5,"x":0.4,"d":74.9},{"v":5,"x":0.425,"d":72.8},{"v":5,"x":0.45,"d":70.9},{"v":5,"x":0.475,"d":69.2},{"v":5,"x":0.5,"d":67.6},{"v":5,"x":0.525,"d":66.2},{"v":5,"x":0.55,"d":64.9},{"v":5,"x":0.575,"d":63.6},{"v":5,"x":0.6,"d":62.3},{"v":5,"x":0.625,"d":61.0},{"v":5,"x":0.65,"d":59.5},{"v":5,"x":0.675,"d":57.9},{"v":5,"x":0.7,"d":56.1},{"v":5,"x":0.725,"d":54.0},{"v":5,"x":0.75,"d":51.9},{"v":5,"x":0.775,"d":49.5}
]
},
"vconcat": [
{
 "bounds": "flush",
 "spacing": 43,
 "title": {"text": "(a)", "orient": "bottom", "anchor": "middle", "font": "Liberation Serif", "fontSize": 19, "fontWeight": "bold", "color": "#000000", "offset": 6},
 "hconcat": [
  {
   "width": 594, "height": 547,
   "view": {"stroke": "#f2c4bc", "strokeWidth": 1},
   "title": {"text": "Volume of Rock = 5 m³ | Masonry Tensile Strength = 0.20 MPa", "anchor": "middle", "frame": "group", "offset": -2},
   "layer": [
    {"data": {"name": "gA"}, "mark": {"type": "rect", "strokeWidth": 0.7, "clip": true},
     "encoding": {
      "x": {"field": "x", "type": "quantitative", "bin": {"binned": true, "step": 0.025}, "title": "Thickness of Masonry Wall in m", "scale": {"domain": [0.4, 0.8], "nice": false, "zero": false}, "axis": {"values": [0.4, 0.45, 0.5, 0.55, 0.6, 0.65, 0.7, 0.75, 0.8], "format": ".2f", "labelPadding": 12, "titlePadding": 10}},
      "y": {"field": "v", "type": "quantitative", "bin": {"binned": true, "step": 1}, "title": "Rock Velocity in m/sec", "scale": {"domain": [5, 20], "nice": false, "zero": false}, "axis": {"values": [5, 10, 15, 20], "labelPadding": 8, "titlePadding": 10}},
      "color": {"field": "d", "type": "quantitative", "legend": null, "scale": {"domain": [0,10,20,30,40,50,55,60,65,70,75,80,85,90,95,100], "range": ["#3e26a8","#4443e0","#3868f2","#2887e8","#169fdc","#0fb6c6","#22bdb0","#45c193","#72c170","#a0be4c","#c6ba3c","#e1b53a","#f4b33b","#fcc039","#f6d52c","#f9fb0e"], "interpolate": "rgb"}},
      "stroke": {"field": "d", "type": "quantitative", "legend": null, "scale": {"domain": [0,10,20,30,40,50,55,60,65,70,75,80,85,90,95,100], "range": ["#3e26a8","#4443e0","#3868f2","#2887e8","#169fdc","#0fb6c6","#22bdb0","#45c193","#72c170","#a0be4c","#c6ba3c","#e1b53a","#f4b33b","#fcc039","#f6d52c","#f9fb0e"], "interpolate": "rgb"}}
     }},
    {"data": {"name": "fA"}, "mark": {"type": "rect", "strokeWidth": 0.7, "clip": true},
     "encoding": {
      "x": {"field": "x", "type": "quantitative", "bin": {"binned": true, "step": 0.025}, "title": "Thickness of Masonry Wall in m"},
      "y": {"field": "v", "type": "quantitative", "bin": {"binned": true, "step": 0.5}, "title": "Rock Velocity in m/sec"},
      "color": {"field": "d", "type": "quantitative", "legend": null},
      "stroke": {"field": "d", "type": "quantitative", "legend": null}
     }},
    {"data": {"name": "lA"}, "mark": {"type": "line", "color": "#151515", "strokeWidth": 1.3, "interpolate": "monotone", "clip": true},
     "encoding": {
      "x": {"field": "x", "type": "quantitative", "title": "Thickness of Masonry Wall in m"},
      "y": {"field": "v", "type": "quantitative", "title": "Rock Velocity in m/sec"},
      "detail": {"field": "k", "type": "nominal"}
     }}
   ]
  },
  {
   "width": 42, "height": 547,
   "view": {"stroke": "#262626", "strokeWidth": 1},
   "data": {"name": "cb"},
   "mark": {"type": "rect", "strokeWidth": 0.7},
   "encoding": {
    "y": {"field": "c", "type": "quantitative", "bin": {"binned": true, "step": 1}, "title": "Damage Index (%)", "scale": {"domain": [0, 100], "nice": false, "zero": false}, "axis": {"orient": "right", "values": [0,10,20,30,40,50,60,70,80,90,100], "labelFontSize": 19, "labelPadding": 8, "titlePadding": 22, "titleFontSize": 24, "titleAngle": 270, "titleBaseline": "top"}},
    "color": {"field": "c", "type": "quantitative", "legend": null, "scale": {"domain": [0,10,20,30,40,50,55,60,65,70,75,80,85,90,95,100], "range": ["#3e26a8","#4443e0","#3868f2","#2887e8","#169fdc","#0fb6c6","#22bdb0","#45c193","#72c170","#a0be4c","#c6ba3c","#e1b53a","#f4b33b","#fcc039","#f6d52c","#f9fb0e"], "interpolate": "rgb"}},
    "stroke": {"field": "c", "type": "quantitative", "legend": null, "scale": {"domain": [0,10,20,30,40,50,55,60,65,70,75,80,85,90,95,100], "range": ["#3e26a8","#4443e0","#3868f2","#2887e8","#169fdc","#0fb6c6","#22bdb0","#45c193","#72c170","#a0be4c","#c6ba3c","#e1b53a","#f4b33b","#fcc039","#f6d52c","#f9fb0e"], "interpolate": "rgb"}}
   }
  }
 ]
},
{
 "bounds": "flush",
 "spacing": 43,
 "title": {"text": "(b)", "orient": "bottom", "anchor": "middle", "font": "Liberation Serif", "fontSize": 19, "fontWeight": "bold", "color": "#000000", "offset": 6},
 "hconcat": [
  {
   "width": 594, "height": 547,
   "view": {"stroke": "#f2c4bc", "strokeWidth": 1},
   "title": {"text": "Volume of Rock = 5 m³ | Masonry Tensile Strength = 0.40 MPa", "anchor": "middle", "frame": "group", "offset": -2},
   "layer": [
    {"data": {"name": "gB"}, "mark": {"type": "rect", "strokeWidth": 0.7, "clip": true},
     "encoding": {
      "x": {"field": "x", "type": "quantitative", "bin": {"binned": true, "step": 0.025}, "title": "Thickness of Masonry Wall in m", "scale": {"domain": [0.4, 0.8], "nice": false, "zero": false}, "axis": {"values": [0.4, 0.45, 0.5, 0.55, 0.6, 0.65, 0.7, 0.75, 0.8], "format": ".2f", "labelPadding": 12, "titlePadding": 10}},
      "y": {"field": "v", "type": "quantitative", "bin": {"binned": true, "step": 1}, "title": "Rock Velocity in m/sec", "scale": {"domain": [5, 20], "nice": false, "zero": false}, "axis": {"values": [5, 10, 15, 20], "labelPadding": 8, "titlePadding": 10}},
      "color": {"field": "d", "type": "quantitative", "legend": null, "scale": {"domain": [0,10,20,30,40,50,55,60,65,70,75,80,85,90,95,100], "range": ["#3e26a8","#4443e0","#3868f2","#2887e8","#169fdc","#0fb6c6","#22bdb0","#45c193","#72c170","#a0be4c","#c6ba3c","#e1b53a","#f4b33b","#fcc039","#f6d52c","#f9fb0e"], "interpolate": "rgb"}},
      "stroke": {"field": "d", "type": "quantitative", "legend": null, "scale": {"domain": [0,10,20,30,40,50,55,60,65,70,75,80,85,90,95,100], "range": ["#3e26a8","#4443e0","#3868f2","#2887e8","#169fdc","#0fb6c6","#22bdb0","#45c193","#72c170","#a0be4c","#c6ba3c","#e1b53a","#f4b33b","#fcc039","#f6d52c","#f9fb0e"], "interpolate": "rgb"}}
     }},
    {"data": {"name": "fB"}, "mark": {"type": "rect", "strokeWidth": 0.7, "clip": true},
     "encoding": {
      "x": {"field": "x", "type": "quantitative", "bin": {"binned": true, "step": 0.025}, "title": "Thickness of Masonry Wall in m"},
      "y": {"field": "v", "type": "quantitative", "bin": {"binned": true, "step": 0.5}, "title": "Rock Velocity in m/sec"},
      "color": {"field": "d", "type": "quantitative", "legend": null},
      "stroke": {"field": "d", "type": "quantitative", "legend": null}
     }},
    {"data": {"name": "lB"}, "mark": {"type": "line", "color": "#151515", "strokeWidth": 1.3, "interpolate": "monotone", "clip": true},
     "encoding": {
      "x": {"field": "x", "type": "quantitative", "title": "Thickness of Masonry Wall in m"},
      "y": {"field": "v", "type": "quantitative", "title": "Rock Velocity in m/sec"},
      "detail": {"field": "k", "type": "nominal"}
     }}
   ]
  },
  {
   "width": 42, "height": 547,
   "view": {"stroke": "#262626", "strokeWidth": 1},
   "data": {"name": "cb"},
   "mark": {"type": "rect", "strokeWidth": 0.7},
   "encoding": {
    "y": {"field": "c", "type": "quantitative", "bin": {"binned": true, "step": 1}, "title": "Damage Index (%)", "scale": {"domain": [0, 100], "nice": false, "zero": false}, "axis": {"orient": "right", "values": [0,10,20,30,40,50,60,70,80,90,100], "labelFontSize": 19, "labelPadding": 8, "titlePadding": 22, "titleFontSize": 24, "titleAngle": 270, "titleBaseline": "top"}},
    "color": {"field": "c", "type": "quantitative", "legend": null, "scale": {"domain": [0,10,20,30,40,50,55,60,65,70,75,80,85,90,95,100], "range": ["#3e26a8","#4443e0","#3868f2","#2887e8","#169fdc","#0fb6c6","#22bdb0","#45c193","#72c170","#a0be4c","#c6ba3c","#e1b53a","#f4b33b","#fcc039","#f6d52c","#f9fb0e"], "interpolate": "rgb"}},
    "stroke": {"field": "c", "type": "quantitative", "legend": null, "scale": {"domain": [0,10,20,30,40,50,55,60,65,70,75,80,85,90,95,100], "range": ["#3e26a8","#4443e0","#3868f2","#2887e8","#169fdc","#0fb6c6","#22bdb0","#45c193","#72c170","#a0be4c","#c6ba3c","#e1b53a","#f4b33b","#fcc039","#f6d52c","#f9fb0e"], "interpolate": "rgb"}}
   }
  }
 ]
}
]
}
